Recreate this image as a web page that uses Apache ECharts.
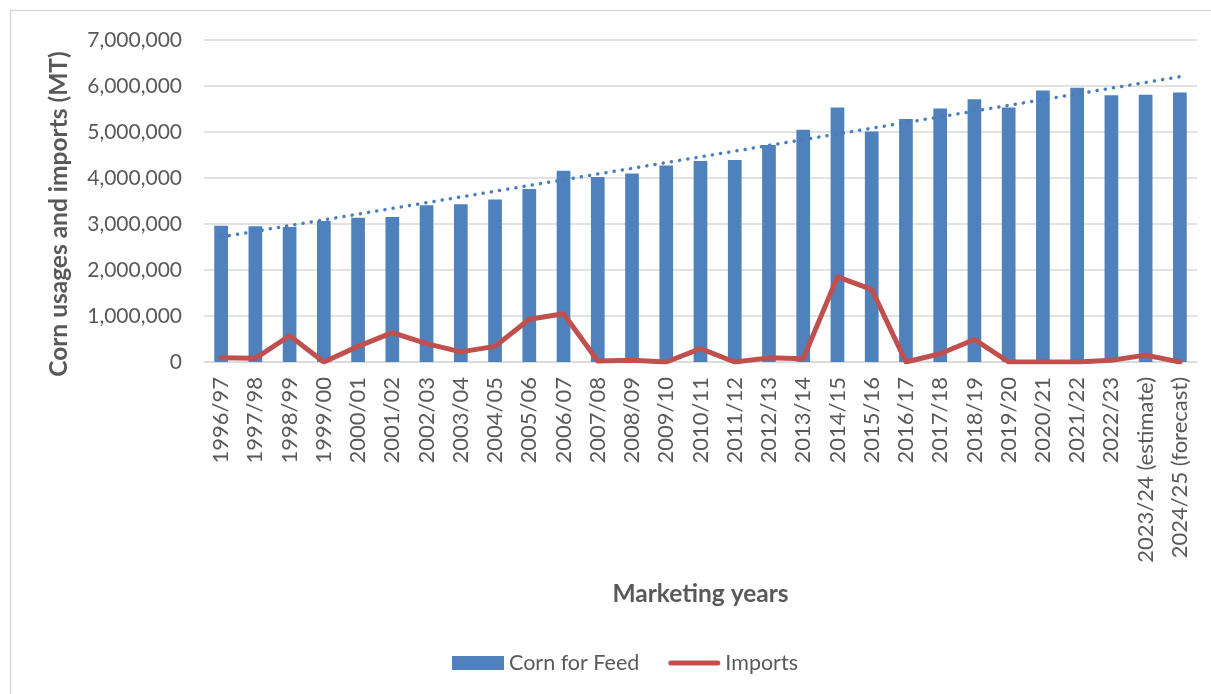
<!DOCTYPE html>
<html>
<head>
<meta charset="utf-8">
<script src="https://cdn.jsdelivr.net/npm/echarts@6/dist/echarts.min.js"></script>
<style>
  html, body { margin: 0; padding: 0; background: #fff; }
  #chart { width: 1211px; height: 694px; }
</style>
</head>
<body>
<div id="chart"></div>
<script>
// Marketing years
const years = [
  '1996/97', '1997/98', '1998/99', '1999/00', '2000/01', '2001/02', '2002/03',
  '2003/04', '2004/05', '2005/06', '2006/07', '2007/08', '2008/09', '2009/10',
  '2010/11', '2011/12', '2012/13', '2013/14', '2014/15', '2015/16', '2016/17',
  '2017/18', '2018/19', '2019/20', '2020/21', '2021/22', '2022/23',
  '2023/24 (estimate)', '2024/25 (forecast)'
];

// Corn for feed (MT)
const cornForFeed = [
  2963000, 2950000, 2935000, 3065000, 3137000, 3150000, 3410000,
  3430000, 3530000, 3760000, 4160000, 4020000, 4100000, 4270000,
  4370000, 4390000, 4720000, 5050000, 5530000, 5010000, 5280000,
  5510000, 5710000, 5530000, 5900000, 5960000, 5800000,
  5810000, 5860000
];

// Corn imports (MT)
const imports = [
  90000, 80000, 570000, 0, 340000, 640000, 400000,
  220000, 340000, 930000, 1050000, 20000, 40000, 0,
  290000, 0, 90000, 70000, 1850000, 1580000, 0,
  180000, 490000, 0, 0, 0, 40000,
  150000, 0
];

// Y axis ticks
const yMin = 0;
const yMax = 7000000;
const yStep = 1000000;

// Least-squares linear trend of corn for feed
function linearTrend(values) {
  const n = values.length;
  let sx = 0, sy = 0, sxx = 0, sxy = 0;
  values.forEach((v, i) => {
    const x = i + 1;
    sx += x; sy += v; sxx += x * x; sxy += x * v;
  });
  const slope = (n * sxy - sx * sy) / (n * sxx - sx * sx);
  const intercept = (sy - slope * sx) / n;
  return values.map((_, i) => intercept + slope * (i + 1));
}
const feedTrend = linearTrend(cornForFeed);

const textColor = '#595959';
const fontFamily = 'Lato, "Open Sans", sans-serif';

// Legend icon for the imports line: a thick rounded stroke, padded to the legend box
const lineIcon = 'path://M26,0L26.001,0Z M26,14L26.001,14Z ' +
  'M2.5,4.5L49.5,4.5A2.5,2.5,0,0,1,49.5,9.5L2.5,9.5A2.5,2.5,0,0,1,2.5,4.5Z';

const chart = echarts.init(document.getElementById('chart'), null, { renderer: 'canvas' });

chart.setOption({
  backgroundColor: '#ffffff',
  animation: false,
  textStyle: { fontFamily: fontFamily, color: textColor },
  graphic: [{
    type: 'rect',
    shape: { x: 10.5, y: 10.5, width: 1400, height: 1000 },
    style: { fill: 'none', stroke: '#d9d9d9', lineWidth: 1.5 },
    silent: true
  }],
  grid: { left: 204, right: 14, top: 40, bottom: 332, containLabel: false },
  legend: {
    left: 447,
    top: 647,
    itemWidth: 52,
    itemHeight: 14,
    itemGap: 29,
    textStyle: { fontSize: 21.5, color: textColor, fontFamily: fontFamily },
    data: [
      { name: 'Corn for Feed', icon: 'rect' },
      { name: 'Imports', icon: lineIcon, itemStyle: { color: '#c0504d', borderWidth: 0 } }
    ]
  },
  xAxis: {
    type: 'category',
    data: years,
    name: 'Marketing years',
    nameLocation: 'middle',
    nameGap: 220,
    nameTextStyle: { fontSize: 24.5, fontWeight: 'bold', color: textColor, fontFamily: fontFamily },
    axisLine: { show: true, lineStyle: { color: '#d9d9d9', width: 1.5 } },
    axisTick: { show: false },
    axisLabel: {
      rotate: 90,
      interval: 0,
      margin: 15,
      fontSize: 22,
      color: textColor,
      fontFamily: fontFamily
    }
  },
  yAxis: {
    type: 'value',
    min: yMin,
    max: yMax,
    interval: yStep,
    name: 'Corn usages and imports (MT)',
    nameLocation: 'middle',
    nameGap: 132,
    nameTextStyle: {
      fontSize: 24.5, fontWeight: 'bold', color: textColor, fontFamily: fontFamily,
      padding: [0, 26, 0, 0]
    },
    axisLine: { show: false },
    axisTick: { show: false },
    splitLine: { lineStyle: { color: '#d9d9d9', width: 1.5 } },
    axisLabel: {
      margin: 22,
      fontSize: 21,
      color: textColor,
      fontFamily: fontFamily,
      formatter: v => v.toLocaleString('en-US')
    }
  },
  series: [
    {
      name: 'Corn for Feed',
      type: 'bar',
      data: cornForFeed,
      barWidth: '40%',
      itemStyle: { color: '#4f81bd' },
      z: 2
    },
    {
      name: 'Imports',
      type: 'line',
      data: imports,
      symbol: 'none',
      lineStyle: { color: '#c0504d', width: 5, join: 'round', cap: 'round' },
      itemStyle: { color: '#c0504d' },
      z: 4
    },
    {
      name: 'Linear (Corn for Feed)',
      type: 'line',
      data: feedTrend,
      symbol: 'none',
      silent: true,
      lineStyle: { color: '#4a7ebb', width: 3.5, type: [0.1, 8.2], cap: 'round' },
      z: 3
    }
  ]
});
</script>
</body>
</html>
